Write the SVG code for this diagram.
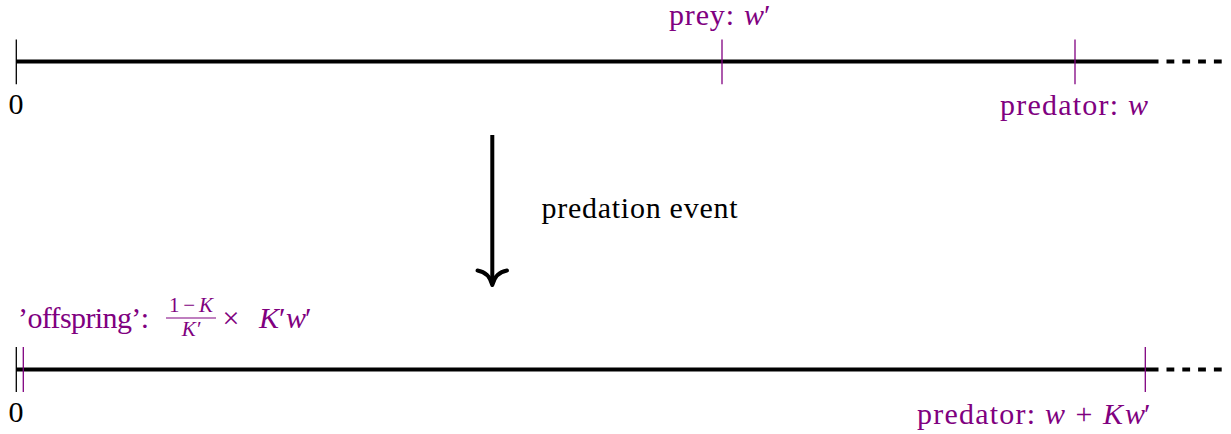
<svg xmlns="http://www.w3.org/2000/svg" width="1231" height="434" viewBox="0 0 1231 434">
<style>
.axis{stroke:#000;stroke-width:4;fill:none}
.dash{stroke:#000;stroke-width:4;fill:none;stroke-dasharray:7.8 8}
.tk{stroke:#000;stroke-width:1.3}
.ptk{stroke:#800080;stroke-width:1.3}
text{font-family:"Liberation Serif","DejaVu Serif",serif;font-size:30px}
.p{fill:#800080}
.b{fill:#000}
.it{font-style:italic}
.sm{font-size:21px}
</style>
<rect width="1231" height="434" fill="#fff"/>
<g id="axis-top">
<line class="axis" x1="16" y1="61.5" x2="1158.5" y2="61.5"/>
<line class="dash" x1="1166.5" y1="61.5" x2="1222" y2="61.5"/>
<line class="tk" x1="16.3" y1="39.5" x2="16.3" y2="84.3"/>
<text class="b" x="16" y="114" text-anchor="middle">0</text>
</g>
<g id="prey-top">
<line class="ptk" x1="722" y1="39.5" x2="722" y2="84.3"/>
<text class="p" y="25"><tspan x="669" textLength="65">prey:</tspan><tspan class="it" x="744">w</tspan><tspan x="764">′</tspan></text>
</g>
<g id="predator-top">
<line class="ptk" x1="1075" y1="39.5" x2="1075" y2="84.3"/>
<text class="p" y="115"><tspan x="1000" textLength="118">predator:</tspan><tspan class="it" x="1128">w</tspan></text>
</g>
<g id="connectors">
<line x1="492.3" y1="135" x2="492.3" y2="283" stroke="#000" stroke-width="4"/>
<path d="M477.5,270.5 C484,271.5 490,276 492.3,285 C494.6,276 500.6,271.5 507,270.5" fill="none" stroke="#000" stroke-width="4" stroke-linecap="round" stroke-linejoin="round"/>
<text class="b" x="541.5" y="218" textLength="196">predation event</text>
</g>
<g id="axis-bottom">
<line class="axis" x1="16" y1="369.5" x2="1158.5" y2="369.5"/>
<line class="dash" x1="1166.5" y1="369.5" x2="1222" y2="369.5"/>
<line class="tk" x1="16.3" y1="347" x2="16.3" y2="392"/>
<text class="b" x="16" y="422" text-anchor="middle">0</text>
</g>
<g id="offspring">
<line class="ptk" x1="23.3" y1="347" x2="23.3" y2="392"/>
<text class="p" y="328"><tspan x="18" textLength="131">’offspring’:</tspan></text>
<text class="p sm" x="191" y="312" text-anchor="middle" textLength="44">1−<tspan class="it">K</tspan></text>
<line x1="166" y1="318" x2="216" y2="318" stroke="#800080" stroke-width="1.2"/>
<text class="p sm it" x="191" y="335.5" text-anchor="middle">K′</text>
<text class="p" x="231" y="328" text-anchor="middle">×</text>
<text class="p" y="328"><tspan class="it" x="259">K</tspan><tspan x="279">′</tspan><tspan class="it" x="286">w</tspan><tspan x="305">′</tspan></text>
</g>
<g id="predator-bottom">
<line class="ptk" x1="1145.3" y1="347" x2="1145.3" y2="392"/>
<text class="p" y="424"><tspan x="917" textLength="118">predator:</tspan><tspan class="it" x="1045">w</tspan><tspan x="1075.5">+</tspan><tspan class="it" x="1103">K</tspan><tspan class="it" x="1125">w</tspan><tspan x="1144">′</tspan></text>
</g>
</svg>
